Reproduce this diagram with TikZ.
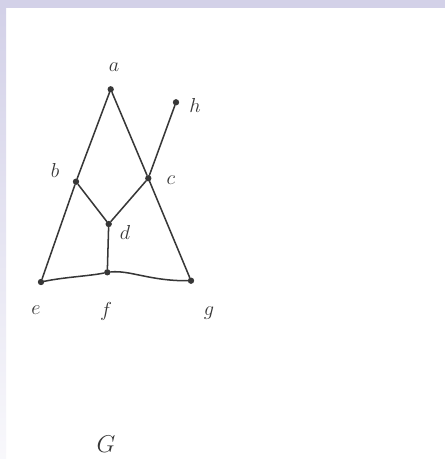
\documentclass[tikz,border=0pt]{standalone}
\usepackage{tikz}
\usetikzlibrary{positioning}

\definecolor{bandcol}{RGB}{211,209,232}
\definecolor{inkcol}{RGB}{55,55,55}

\begin{document}
\begin{tikzpicture}[x=0.03cm, y=-0.03cm,
  lbl/.style={font=\LARGE, text=inkcol, inner sep=1pt},
  vtx/.style={circle, fill=inkcol, inner sep=0pt, minimum size=1.9mm},
  inkedge/.style={draw=inkcol, line width=1.3pt, line cap=round, line join=round}
]
\useasboundingbox (0,0) rectangle (445,459);
\fill[white] (0,0) rectangle (445,459);
\fill[bandcol] (0,0) rectangle (445,8);
\shade[top color=bandcol, bottom color=bandcol!15] (0,8) rectangle (6,459);

\node[vtx] (na) at (110.7, 89.3) {};
\node[vtx] (nh) at (176.0, 102.3) {};
\node[vtx] (nb) at (76.0, 181.7) {};
\node[vtx] (nc) at (148.3, 178.3) {};
\node[vtx] (nd) at (108.7, 224.0) {};
\node[vtx] (nf) at (107.3, 272.3) {};
\node[vtx] (ne) at (41.0, 282.0) {};
\node[vtx] (ng) at (191.0, 280.7) {};
\draw[inkedge] (na) -- (nb);
\draw[inkedge] (nb) -- (ne);
\draw[inkedge] (na) -- (nc);
\draw[inkedge] (nc) -- (ng);
\draw[inkedge] (nh) -- (nc);
\draw[inkedge] (nb) -- (nd);
\draw[inkedge] (nc) -- (nd);
\draw[inkedge] (nd) -- (nf);
\draw[inkedge] (ne) .. controls (65,277) and (90,276) .. (nf);
\draw[inkedge] (nf) .. controls (130,270) and (150,281) .. (ng);
\node[lbl] (la) at (114, 67) {$a$};
\node[lbl] (lh) at (195, 105) {$h$};
\node[lbl] (lb) at (55, 170) {$b$};
\node[lbl] (lc) at (171, 180) {$c$};
\node[lbl] (ld) at (125, 232) {$d$};
\node[lbl] (le) at (36, 310) {$e$};
\node[lbl] (lf) at (106, 311) {$f$};
\node[lbl] (lg) at (209, 313) {$g$};
\node[lbl, font=\huge] (lG) at (106, 444) {$G$};

\end{tikzpicture}
\end{document}
